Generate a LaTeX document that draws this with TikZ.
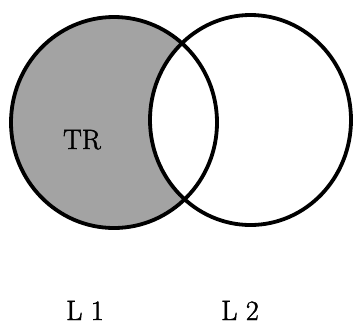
\documentclass[tikz,border=0pt]{standalone}
\usepackage{fontspec}
\setmainfont{Latin Modern Roman}
\newfontfamily\lblfont[FakeBold=1.6]{Latin Modern Roman}
\begin{document}
\begin{tikzpicture}[x=1pt,y=-1pt,
  ring/.style={line width=3.8pt,draw=black},
  shade/.style={fill=black!36},
  lbl/.style={font=\lblfont\fontsize{28}{30}\selectfont,inner sep=0pt,
    text depth=0pt,anchor=base}]
  \useasboundingbox (0,0) rectangle (353,325);
  % region of L1 outside L2
  \begin{scope}
    \clip (114,122.5) ellipse [x radius=103,y radius=105.5];
    \fill[shade,even odd rule] (0,0) rectangle (353,325)
      (250.5,120) ellipse [x radius=100.5,y radius=105];
  \end{scope}
  % the two sets
  \draw[ring] (114,122.5) ellipse [x radius=103,y radius=105.5];
  \draw[ring] (250.5,120) ellipse [x radius=100.5,y radius=105];
  % labels
  \node[lbl] (tr) at (82,149) {TR};
  \node[lbl] (l1) at (85,320) {L 1};
  \node[lbl] (l2) at (240,320) {L 2};
\end{tikzpicture}
\end{document}
